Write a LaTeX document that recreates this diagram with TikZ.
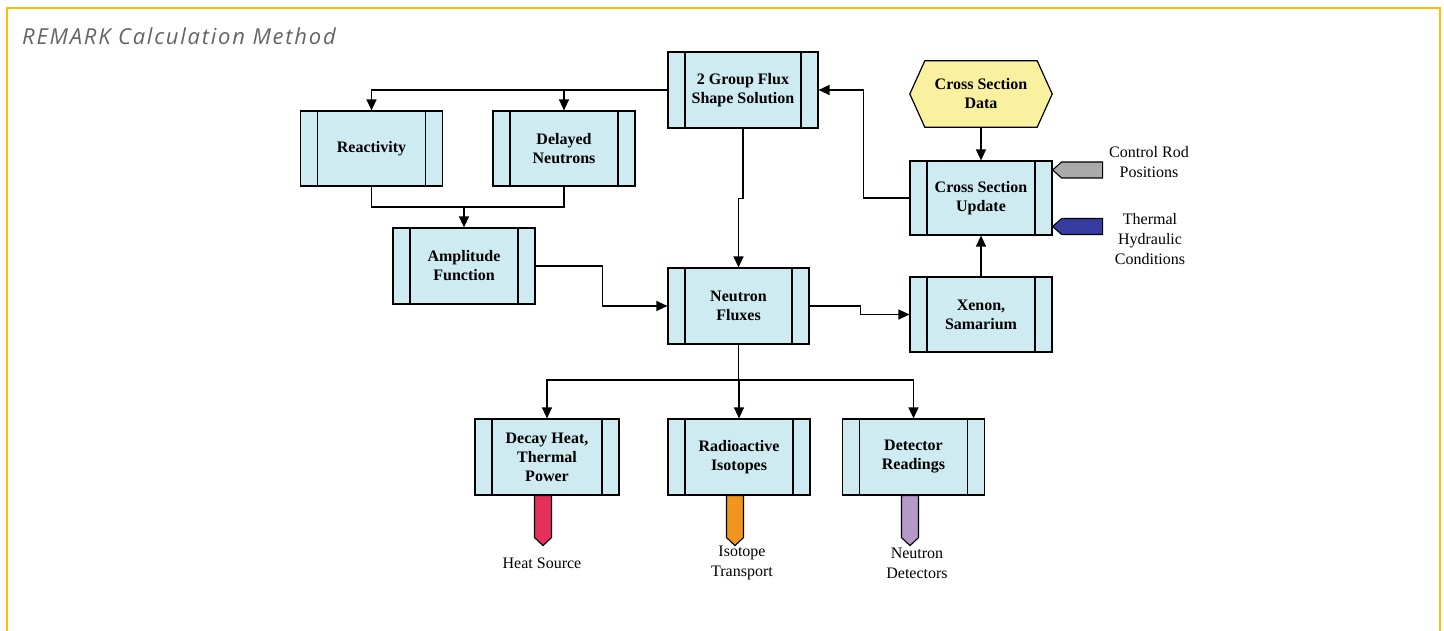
\documentclass[tikz,border=0pt]{standalone}
\usepackage{fontspec}
\setmainfont{Liberation Serif}
\newfontfamily\titlefont[LetterSpace=8]{Open Sans}
\usetikzlibrary{arrows.meta,backgrounds}
\definecolor{boxblue}{RGB}{206,235,241}
\definecolor{hexyellow}{RGB}{250,241,160}
\definecolor{ptrgray}{RGB}{170,170,170}
\definecolor{ptrblue}{RGB}{55,60,160}
\definecolor{ptrred}{RGB}{228,48,90}
\definecolor{ptrorange}{RGB}{240,150,30}
\definecolor{ptrlilac}{RGB}{182,152,202}
\definecolor{framecol}{RGB}{255,190,0}
\definecolor{titlegray}{RGB}{100,100,100}
\begin{document}
\begin{tikzpicture}[x=1pt,y=-1pt,
  procbox/.style={draw=black, fill=boxblue, line width=1.2pt, minimum width=142pt, minimum height=76pt,
    inner sep=0pt, align=center, font=\fontsize{16}{19}\selectfont\bfseries,
    path picture={\draw[line width=1.2pt]
      ([xshift=17pt]path picture bounding box.north west) -- ([xshift=17pt]path picture bounding box.south west)
      ([xshift=-17pt]path picture bounding box.north east) -- ([xshift=-17pt]path picture bounding box.south east);}},
  conn/.style={draw=black, line width=1.3pt},
  arr/.style={conn, -{Triangle[length=11pt,width=10pt]}},
  lbl/.style={align=center, font=\fontsize{16}{20}\selectfont, inner sep=0pt},
  ptr/.style={draw=black, line width=1.1pt}]
\useasboundingbox (0,0) rectangle (1444,631);
% frame
\draw[framecol, line width=2.5pt] (7,640) -- (7,8) -- (1440,8) -- (1440,640);
\node[anchor=west, inner sep=0pt, text=titlegray, font=\titlefont\itshape\fontsize{22}{25}\selectfont] (title) at (22,36) {REMARK Calculation Method};

% boxes
\node[procbox, minimum width=150pt] (flux) at (743,90) {2 Group Flux\\Shape Solution};
\node[procbox, minimum height=75pt] (react) at (371.5,148.5) {Reactivity};
\node[procbox, minimum height=75pt] (delay) at (564,148.5) {Delayed\\Neutrons};
\node[procbox] (ampl) at (464,266) {Amplitude\\Function};
\node[procbox, minimum width=141pt] (neut) at (738.5,306) {Neutron\\Fluxes};
\node[procbox, minimum height=74pt] (csu) at (981,198) {Cross Section\\Update};
\node[procbox, minimum height=75pt] (xenon) at (981,314.5) {Xenon,\\Samarium};
\node[procbox, minimum width=144pt] (decay) at (547,457) {Decay Heat,\\Thermal\\Power};
\node[procbox] (radio) at (739,457) {Radioactive\\Isotopes};
\node[procbox] (detect) at (913.5,457) {Detector\\Readings};

% hexagon
\node[minimum width=142pt, minimum height=66pt, inner sep=0pt, align=center,
  font=\fontsize{16}{19}\selectfont\bfseries] (csd) at (981,94) {Cross Section\\Data};
\begin{scope}[on background layer]
\draw[fill=hexyellow, line width=1.2pt] ([xshift=15pt]csd.north west) -- ([xshift=-15pt]csd.north east)
  -- (csd.east) -- ([xshift=-15pt]csd.south east) -- ([xshift=15pt]csd.south west) -- (csd.west) -- cycle;
\end{scope}

% connectors
\draw[arr] (flux.west) -| (react.north);
\draw[arr] (flux.west -| delay.north) -- (delay.north);
\coordinate (j1) at (464,207);
\draw[conn] (react.south) |- (j1) -| (delay.south);
\draw[arr] (j1) -- (ampl.north);
\draw[arr] (ampl.east) -- ++(67,0) |- (neut.west);
\draw[arr] (flux.south) -- ++(0,70) -| (neut.north);
\draw[arr] (neut.east) -- ++(51,0) |- (xenon.west);
\draw[arr] (xenon.north) -- (csu.south);
\draw[arr] (csd.south) -- (csu.north);
\draw[arr] (csu.west) -- ++(-46,0) |- (flux.east);
\coordinate (j2) at (738.5,380);
\draw[conn] (neut.south) -- (j2);
\draw[arr] (j2) -| (decay.north);
\draw[arr] (j2) -| (detect.north);
\draw[arr] (j2) -| (radio.north);

% side pointers
\draw[ptr, fill=ptrgray] ([yshift=28pt]csu.east) -- ++(9,-8) -- ++(41,0) -- ++(0,16) -- ++(-41,0) -- cycle;
\draw[ptr, fill=ptrblue] ([yshift=-28.5pt]csu.east) -- ++(9,-8) -- ++(41,0) -- ++(0,16) -- ++(-41,0) -- cycle;
\node[lbl] (crp) at (1149,162) {Control Rod\\Positions};
\node[lbl] (thc) at (1150,239) {Thermal\\Hydraulic\\Conditions};

% bottom pointers
\draw[ptr, fill=ptrred] ([xshift=-12.5pt]decay.south) -- ++(0,42) -- ++(8.5,8) -- ++(8.5,-8) -- ++(0,-42) -- cycle;
\draw[ptr, fill=ptrorange] ([xshift=-12.5pt]radio.south) -- ++(0,42) -- ++(8.5,8) -- ++(8.5,-8) -- ++(0,-42) -- cycle;
\draw[ptr, fill=ptrlilac] ([xshift=-12pt]detect.south) -- ++(0,42) -- ++(8.5,8) -- ++(8.5,-8) -- ++(0,-42) -- cycle;
\node[lbl] (heat) at (542,563) {Heat Source};
\node[lbl] (iso) at (742,563) {Isotope\\Transport};
\node[lbl] (ndet) at (917,563) {Neutron\\Detectors};
\end{tikzpicture}
\end{document}
